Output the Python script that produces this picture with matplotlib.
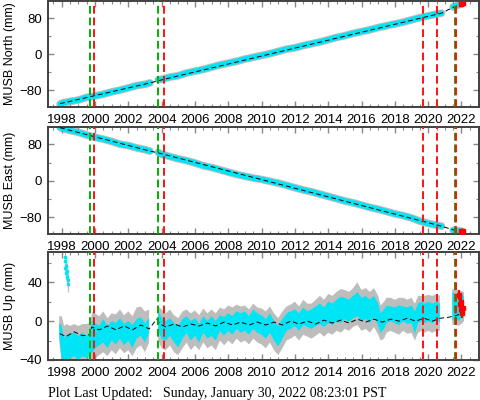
import numpy as np
import matplotlib
matplotlib.use("Agg")
import matplotlib.pyplot as plt
from matplotlib.ticker import MultipleLocator

# --- DANE ---
nan = np.nan

lata_ne = [1997.9, 1998.0, 1998.5, 1999.0, 1999.5, 2000.0, 2000.5, 2001.0, 2001.5,
           2002.0, 2002.5, 2003.0, 2003.3, 2003.55, 2003.8, 2004.0, 2004.5, 2005.0,
           2005.5, 2006.0, 2006.5, 2007.0, 2007.5, 2008.0, 2008.5, 2009.0, 2009.5,
           2010.0, 2010.5, 2011.0, 2011.5, 2012.0, 2012.5, 2013.0, 2013.5, 2014.0,
           2014.5, 2015.0, 2015.5, 2016.0, 2016.5, 2017.0, 2017.5, 2018.0, 2018.5,
           2019.0, 2019.5, 2020.0, 2020.5, 2020.8, 2021.1, 2021.5, 2021.8, 2022.0]
north = [-111, -109, -105, -102, -96, -93, -89, -84, -80, -75, -70, -67, -64, nan,
         -57, -56, -51, -48, -42, -38, -34, -29, -24, -20, -16, -11, -7, -3, 1, 6,
         11, 14, 19, 23, 27, 32, 37, 41, 46, 50, 54, 59, 63, 67, 71, 76, 81, 85, 89,
         91, nan, 105, 109, 112]
east = [117, 115, 110, 106, 100, 95, 91, 86, 80, 77, 72, 68, 65, nan, 62, 58, 53,
        48, 44, 39, 33, 29, 24, 19, 14, 10, 6, 3, -1, -5, -10, -15, -20, -24, -29,
        -34, -39, -44, -48, -53, -58, -62, -67, -72, -76, -81, -88, -93, -97, -99,
        nan, -108, -109, -110]

model_ne_lata = [1997.9, 2003.3, 2003.8, 2020.8, 2021.5, 2022.1]
model_north = [-110, -64, -59, 91, 104, 112]
model_east = [116, 65, 61, -99, -107, -110]

red_lata = [2021.98, 2022.02, 2022.06, 2022.1]
red_north = [111, 113, 114, 113]
red_east = [-110, -109, -111, -110]

lata_up = [1997.85, 1998.0, 1998.15, 1998.3, 1998.5, 1998.75, 1999.0, 1999.25, 1999.5,
           1999.7, 1999.85, 2000.0, 2000.25, 2000.5, 2000.75, 2001.0, 2001.25, 2001.5,
           2001.75, 2002.0, 2002.25, 2002.5, 2002.75, 2003.0, 2003.25, 2003.5, 2003.8,
           2004.0, 2004.25, 2004.5, 2004.75, 2005.0, 2005.25, 2005.5, 2005.75, 2006.0,
           2006.25, 2006.5, 2006.75, 2007.0, 2007.25, 2007.5, 2007.75, 2008.0, 2008.25,
           2008.5, 2008.75, 2009.0, 2009.25, 2009.5, 2009.75, 2010.0, 2010.25, 2010.5,
           2010.75, 2011.0, 2011.25, 2011.5, 2011.75, 2012.0, 2012.25, 2012.5, 2012.75,
           2013.0, 2013.25, 2013.5, 2013.75, 2014.0, 2014.25, 2014.5, 2014.75, 2015.0,
           2015.25, 2015.5, 2015.75, 2016.0, 2016.25, 2016.5, 2016.75, 2017.0, 2017.15,
           2017.35, 2017.5, 2017.75, 2018.0, 2018.25, 2018.5, 2018.75, 2019.0, 2019.2,
           2019.4, 2019.6, 2019.8, 2020.0, 2020.25, 2020.5, 2020.7, 2021.0, 2021.45,
           2021.6, 2021.8, 2022.0, 2022.15]
up_c_lo = [-14, -38, -40, -40, -38, -36, -40, -36, -38, -35, -32, -28, -25, -22, -28,
           -20, -24, -18, -25, -20, -28, -18, -15, -22, -12, nan, -10, -18, -20, -15,
           -22, -27, -18, -12, -20, -15, -22, -12, -18, -15, -20, -10, -15, -10, -14,
           -8, -12, -10, -14, -8, -12, -14, -18, -12, -20, -26, -18, -10, -8, -5, -10,
           -4, -6, -8, -5, -3, -6, -2, -4, 0, -2, 2, -1, 3, 5, 0, 2, -2, 4, -4, -12,
           -8, -2, 0, -2, -4, 0, -3, -2, -13, -2, 0, -2, 0, -2, 0, -1, nan, 0, 5, 0, 3, 6]
up_c_hi = [-2, -5, -18, -14, -13, -12, -15, -12, -15, -12, 2, -2, -5, 2, -5, 0, -2, 3,
           -3, 0, -4, 2, 4, -2, 3, nan, 10, 4, 0, 3, -2, -5, 2, 5, 0, 3, -3, 5, 0, 5,
           0, 6, 4, 8, 5, 10, 8, 10, 5, 12, 8, 6, 2, 8, 0, -5, 2, 8, 10, 12, 8, 14, 10,
           12, 15, 18, 14, 20, 18, 22, 25, 24, 22, 26, 30, 24, 26, 22, 26, 18, 8, 12,
           16, 15, 14, 16, 15, 14, 16, 10, 18, 20, 18, 20, 18, 20, 18, nan, 30, 28, 25,
           28, 25]
up_g_lo = [-20, -45, -45, -45, -45, -45, -45, -45, -45, -42, -40, -38, -35, -32, -36,
           -30, -34, -28, -33, -30, -36, -28, -25, -32, -22, nan, -20, -28, -30, -25,
           -32, -35, -28, -22, -30, -25, -30, -22, -28, -25, -30, -20, -25, -20, -24,
           -18, -22, -20, -24, -18, -22, -24, -28, -22, -30, -35, -28, -20, -18, -15,
           -20, -14, -16, -18, -15, -12, -16, -12, -14, -10, -12, -8, -10, -6, -4, -10,
           -8, -12, -6, -14, -20, -18, -12, -10, -12, -14, -10, -13, -12, -20, -12,
           -10, -12, -10, -12, -10, -10, nan, -5, -2, -5, -3, 0]
up_g_hi = [5, 5, -5, -3, -5, -3, -5, -3, -3, -2, 10, 8, 5, 10, 3, 8, 7, 12, 6, 10, 5,
           14, 15, 10, 12, nan, 15, 12, 8, 12, 6, 3, 10, 12, 8, 11, 6, 13, 8, 12, 8,
           14, 12, 16, 14, 17, 15, 16, 12, 18, 14, 13, 10, 15, 8, 3, 10, 15, 17, 20,
           15, 22, 18, 18, 22, 26, 22, 28, 26, 30, 33, 32, 30, 34, 40, 32, 34, 30, 34,
           26, 16, 20, 24, 24, 22, 24, 24, 22, 24, 18, 26, 26, 26, 27, 26, 28, 26, nan,
           33, 33, 32, 31, 30]

odstaj_lata = [1998.18, 1998.2, 1998.22, 1998.25, 1998.28, 1998.3, 1998.32, 1998.35, 1998.37]
odstaj_up = [66, 62, 55, 57, 50, 52, 45, 38, 42]

red_up_lata = [2021.88, 2021.92, 2021.96, 2022.0, 2022.04, 2022.08]
red_up = [27, 18, 12, 20, 8, 14]

model_up_lata = [1997.9, 1998.25, 1998.75, 1999.25, 1999.7, 1999.8, 2000.25, 2000.75,
                 2001.25, 2001.75, 2002.25, 2002.75, 2003.25, 2003.7, 2003.9, 2004.25,
                 2004.75, 2005.25, 2005.75, 2006.25, 2006.75, 2007.25, 2007.75, 2008.25,
                 2008.75, 2009.25, 2009.75, 2010.25, 2010.75, 2011.25, 2011.75, 2012.25,
                 2012.75, 2013.25, 2013.75, 2014.25, 2014.75, 2015.25, 2015.75, 2016.25,
                 2016.75, 2017.25, 2017.75, 2018.25, 2018.75, 2019.25, 2019.75, 2020.25,
                 2020.75, 2021.25, 2021.75, 2022.1]
model_up = [-13, -16, -11, -15, -14, -6, -9, -5, -9, -5, -9, -4, -8, 2, -3, -6, -3, -6,
            -3, -5, -2, -5, -1, -4, -1, -4, -1, -4, -1, -4, 0, -3, 0, -3, 1, -2, 1, -2,
            2, -1, 2, -1, 2, 0, 3, 0, 3, 0, 3, 4, 6, 10]

linie_zielone = [1999.72, 2003.80, 2021.64]
linie_czerwone = [1999.95, 2004.14, 2019.69, 2020.55, 2021.67]

CYAN = '#00e5f5'
SZARY = '#bdbdbd'

plt.rcParams['font.family'] = ['Liberation Sans', 'DejaVu Sans']

fig = plt.figure(figsize=(4.81, 4.00), dpi=100)
pozycje = [[0.0988, 0.733, 0.897, 0.2645],
           [0.0988, 0.414, 0.897, 0.269],
           [0.0988, 0.100, 0.897, 0.271]]
osie = [fig.add_axes(p) for p in pozycje]


def ustaw_os(ax, etykieta, ylim, krok):
    ax.set_xlim(1997.15, 2023.05)
    ax.set_ylim(*ylim)
    ax.xaxis.set_major_locator(MultipleLocator(2))
    ax.xaxis.set_minor_locator(MultipleLocator(0.5))
    ax.yaxis.set_major_locator(MultipleLocator(krok))
    ax.yaxis.set_minor_locator(MultipleLocator(krok / 2))
    ax.tick_params(which='both', direction='in', top=True, right=True,
                   labelsize=9.5, color='#888888')
    ax.tick_params(which='major', length=4, width=1)
    ax.tick_params(which='minor', length=2.5, width=0.8)
    ax.tick_params(axis='x', pad=5)
    ax.tick_params(axis='y', pad=4)
    for s in ax.spines.values():
        s.set_color('#404040')
        s.set_linewidth(1.4)
    ax.set_ylabel(etykieta, fontsize=9, labelpad=2)


def linie_pionowe(ax):
    for x in linie_zielone:
        ax.axvline(x, color='#00b000', lw=1.4, ls=(0, (4, 2)), zorder=5)
    for x in linie_czerwone:
        ax.axvline(x, color='#ff1010', lw=1.4, ls=(0, (4, 2)), zorder=5)


# North i East
for ax, dane, model, czerw, et in [(osie[0], north, model_north, red_north, 'MUSB North (mm)'),
                                   (osie[1], east, model_east, red_east, 'MUSB East (mm)')]:
    ax.plot(lata_ne, dane, color=SZARY, lw=5.5, solid_capstyle='round', zorder=1)
    ax.plot(lata_ne, dane, color=CYAN, lw=4, solid_capstyle='round', zorder=2)
    ax.plot(model_ne_lata, model, color='black', lw=0.7, ls=(0, (5, 3)), zorder=3)
    ax.plot(red_lata, czerw, 's', color='red', ms=3, zorder=4)
    linie_pionowe(ax)
    ustaw_os(ax, et, (-117, 118), 80)

# Up
ax = osie[2]
ax.fill_between(lata_up, up_g_lo, up_g_hi, color=SZARY, lw=0, zorder=1)
ax.fill_between(lata_up, up_c_lo, up_c_hi, color=CYAN, lw=0, zorder=2)
ax.errorbar(odstaj_lata, odstaj_up, yerr=8, fmt='s', ms=2, color=CYAN,
            ecolor=SZARY, elinewidth=0.8, zorder=2)
ax.errorbar(red_up_lata, red_up, yerr=5, fmt='s', ms=2.5, color='red',
            ecolor='red', elinewidth=1.5, zorder=4)
ax.plot(model_up_lata, model_up, color='black', lw=0.7, ls=(0, (5, 3)), zorder=3)
linie_pionowe(ax)
ustaw_os(ax, 'MUSB Up (mm)', (-40, 71.5), 40)

for ax in osie:
    ax.yaxis.set_label_coords(-0.074, 0.5)

fig.text(0.0988, 0.0, 'Plot Last Updated:   Sunday, January 30, 2022 08:23:01 PST',
         family=['Liberation Serif', 'DejaVu Serif'], fontsize=10, ha='left', va='bottom')

fig.savefig('out.png', dpi=100)
